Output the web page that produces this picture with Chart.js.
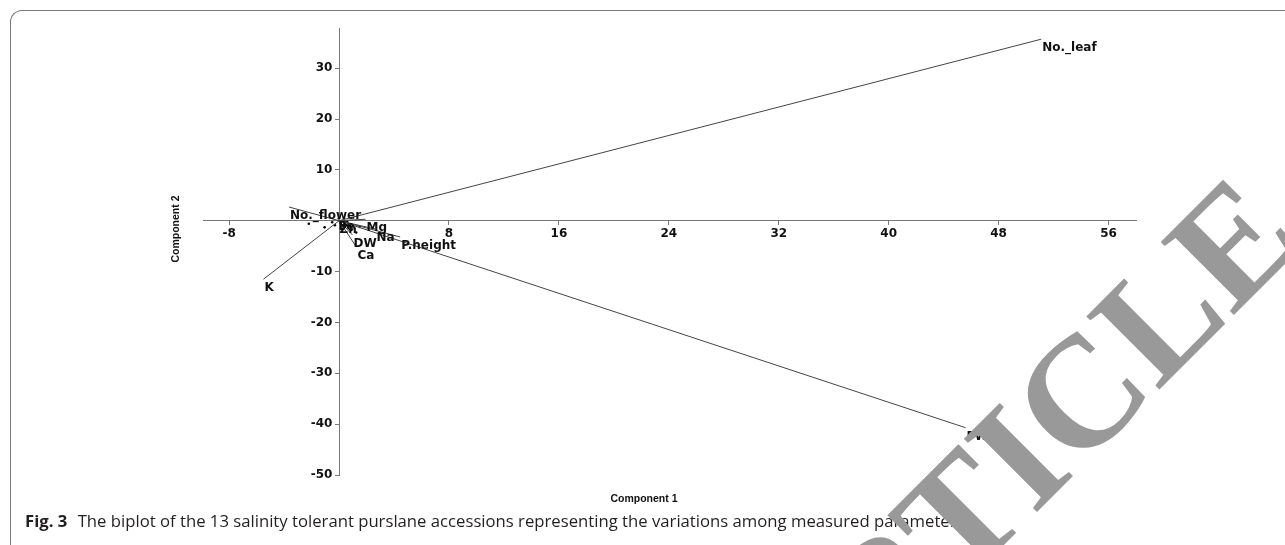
<!DOCTYPE html>
<html>
<head>
<meta charset="utf-8">
<script src="https://cdn.jsdelivr.net/npm/chart.js@4.4.1/dist/chart.umd.min.js"></script>
<style>
html,body{margin:0;padding:0;background:#fff;width:1285px;height:545px;overflow:hidden}
#wrap{position:relative;width:1285px;height:545px;overflow:hidden}
#frame{position:absolute;left:10px;top:10px;width:1400px;height:700px;border-top:1.5px solid #777;border-left:1.5px solid #777;border-top-left-radius:12px}
canvas{position:absolute;left:0;top:0}
#cap{position:absolute;left:25px;top:510px;font-family:'Open Sans';font-size:16.7px;line-height:22px;color:#231f20;white-space:nowrap}
#cap b{font-weight:700;margin-right:6px}
#wm{position:absolute;left:-1731px;top:126px;width:3000px;height:158px;line-height:158px;text-align:right;font-family:'Liberation Serif';font-weight:bold;font-size:158px;color:#999;transform-origin:100% 50%;transform:rotate(-45deg);white-space:nowrap}
</style>
</head>
<body>
<div id="wrap">
  <div id="frame"></div>
  <canvas id="c" width="1285" height="545"></canvas>
  <div id="cap"><b>Fig. 3</b> The biplot of the 13 salinity tolerant purslane accessions representing the variations among measured parameters</div>
  <div id="wm">RETRACTED ARTICLE</div>
</div>
<script>
// loadings (arrows)
const vecNames = ['No._leaf', 'FW', 'K', 'No._flower', 'P.height', 'Na', 'Mg', 'DW', 'Ca', 'Fe', 'Zn']
const vecPC1 = [51.1, 45.6, -5.5, -3.64, 4.45, 2.65, 1.93, 0.98, 1.27, -0.11, -0.04]
const vecPC2 = [35.7, -40.7, -11.5, 2.7, -3.2, -1.64, 0.3, -2.8, -5.2, 0.53, -0.06]

// accession scores (small dots near the origin)
const scorePC1 = [-2.2, -1.05, 1.25, 0.4, 0.8, 0.2, -0.3, 0.6, 1.5, 0.1, 0.9, -0.5, 0.3]
const scorePC2 = [-0.6, -1.3, -2.3, -0.5, -1.0, -1.6, -0.9, -0.2, -1.2, -0.4, -1.8, -0.3, -1.1]

const xTicks = [-8, 8, 16, 24, 32, 40, 48, 56]
const yTicks = [-50, -40, -30, -20, -10, 10, 20, 30]

const tickFont = {family: 'DejaVu Sans', weight: 'bold', size: 12}
const ink = '#111'

const datasets = vecNames.map((name, i) => ({
  label: name,
  type: 'line',
  data: [{x: 0, y: 0}, {x: vecPC1[i], y: vecPC2[i]}],
  borderColor: '#444',
  borderWidth: 1,
  pointRadius: 0,
  fill: false,
  showLine: true
}))
datasets.push({
  label: 'scores',
  type: 'scatter',
  data: scorePC1.map((v, i) => ({x: v, y: scorePC2[i]})),
  backgroundColor: '#000',
  borderWidth: 0,
  pointRadius: 1.3
})

const labelPlugin = {
  id: 'vecLabels',
  afterDatasetsDraw(chart) {
    const ctx = chart.ctx
    ctx.save()
    ctx.font = 'bold 12px "DejaVu Sans"'
    ctx.fillStyle = ink
    ctx.textBaseline = 'top'
    ctx.textAlign = 'left'
    vecNames.forEach((name, i) => {
      const pt = chart.getDatasetMeta(i).data[1]
      ctx.fillText(name, pt.x + 1, pt.y + 3)
    })
    ctx.restore()
  }
}

const titlePlugin = {
  id: 'axisTitles',
  afterDraw(chart) {
    const ctx = chart.ctx
    ctx.save()
    ctx.font = 'bold 10.5px "Liberation Sans"'
    ctx.fillStyle = ink
    ctx.textAlign = 'center'
    ctx.textBaseline = 'middle'
    ctx.fillText('Component 1', 644, 499)
    ctx.translate(176, 229)
    ctx.rotate(-Math.PI / 2)
    ctx.fillText('Component 2', 0, 0)
    ctx.restore()
  }
}

new Chart(document.getElementById('c'), {
  type: 'scatter',
  data: {datasets},
  options: {
    responsive: false,
    animation: false,
    devicePixelRatio: 1,
    layout: {padding: {left: 203, right: 149, top: 28, bottom: 70}},
    plugins: {legend: {display: false}, tooltip: {enabled: false}},
    scales: {
      x: {
        type: 'linear',
        min: -9.9,
        max: 58,
        position: {y: 0},
        afterFit: s => { s.height = 0 },
        afterBuildTicks: s => { s.ticks = xTicks.map(v => ({value: v})) },
        grid: {drawOnChartArea: false, drawTicks: true, tickLength: 4, color: '#777'},
        border: {color: '#777', width: 1},
        ticks: {font: tickFont, color: ink, padding: 2, maxRotation: 0, autoSkip: false}
      },
      y: {
        type: 'linear',
        min: -50,
        max: 37.9,
        position: {x: 0},
        afterFit: s => { s.width = 0 },
        afterBuildTicks: s => { s.ticks = yTicks.map(v => ({value: v})) },
        grid: {drawOnChartArea: false, drawTicks: true, tickLength: 4, color: '#777'},
        border: {color: '#777', width: 1},
        // labels sit at the crossing, so push them left of the tick marks
        ticks: {font: tickFont, color: ink, autoSkip: false, callback: v => v + ' \u2009'}
      }
    }
  },
  plugins: [labelPlugin, titlePlugin]
})
</script>
</body>
</html>
